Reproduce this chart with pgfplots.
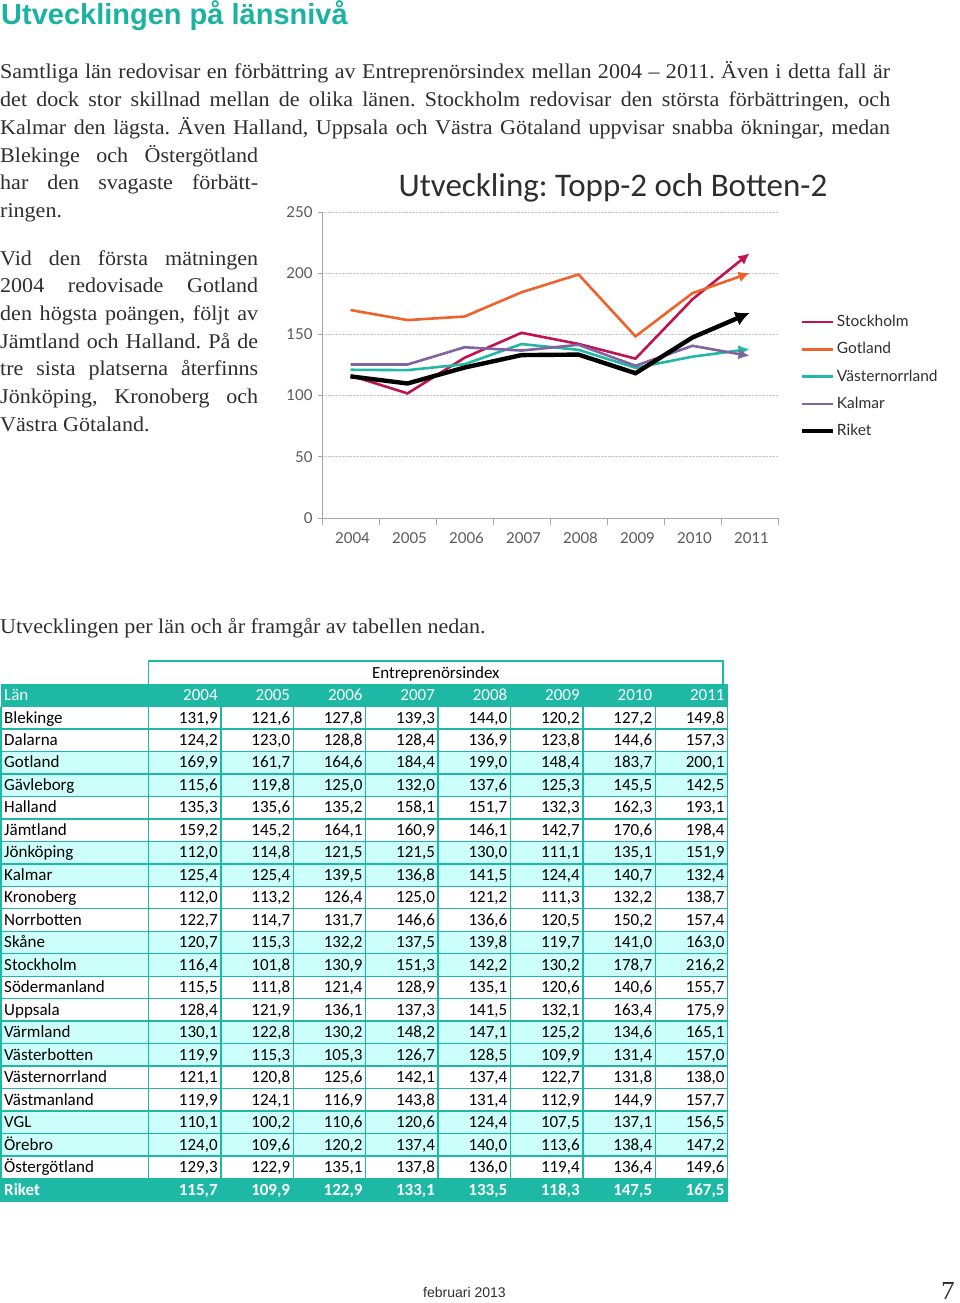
\documentclass[border=0pt]{standalone}
\usepackage{fontspec}
\setmainfont[FakeStretch=1.05]{Liberation Serif}
\newfontfamily\headfont{Liberation Sans}
\newfontfamily\calib{Carlito}
\newfontfamily\lato{Lato}
\usepackage{pgfplots}
\pgfplotsset{compat=1.18}
\usetikzlibrary{arrows.meta}
\definecolor{headteal}{HTML}{1AB2A0}
\definecolor{tteal}{HTML}{1DB9A4}
\definecolor{cyanrow}{HTML}{CCFFF9}
\definecolor{stock}{HTML}{C0134F}
\definecolor{gotl}{HTML}{F0622B}
\definecolor{vnorr}{HTML}{22B8A6}
\definecolor{kalm}{HTML}{8064A2}
\definecolor{txt}{HTML}{2E2E2E}
\definecolor{axgray}{HTML}{595959}

\newcommand\jl[2]{\makebox[#1pt][s]{#2}}
\newcounter{tr}
\newcommand\tfont{\calib\fontsize{17}{17}\selectfont}
% row: name + 8 values
\newcommand\trow[9]{%
  \pgfmathsetmacro\ytop{706.5+22.476*\the\value{tr}}%
  \pgfmathtruncatemacro\band{mod(floor(\the\value{tr}/2),2)}%
  \ifnum\band=1 \fill[cyanrow] (1,-\ytop) rectangle (727.7,-\ytop-22.476);\fi
  \pgfmathsetmacro\yb{\ytop+16.5}%
  \node[anchor=base west,inner sep=0,font=\tfont] at (4,-\yb) {#1};
  \node[anchor=base east,inner sep=0,font=\tfont] at (217.9,-\yb) {#2};
  \node[anchor=base east,inner sep=0,font=\tfont] at (290.3,-\yb) {#3};
  \node[anchor=base east,inner sep=0,font=\tfont] at (362.7,-\yb) {#4};
  \node[anchor=base east,inner sep=0,font=\tfont] at (435.1,-\yb) {#5};
  \node[anchor=base east,inner sep=0,font=\tfont] at (507.5,-\yb) {#6};
  \node[anchor=base east,inner sep=0,font=\tfont] at (579.9,-\yb) {#7};
  \node[anchor=base east,inner sep=0,font=\tfont] at (652.3,-\yb) {#8};
  \node[anchor=base east,inner sep=0,font=\tfont] at (724.7,-\yb) {#9};
  \stepcounter{tr}%
}

\begin{document}
\frenchspacing
\begin{tikzpicture}[x=1pt,y=1pt]
\path[use as bounding box] (0,0) rectangle (960,-1303);

% heading
\node[anchor=base west,inner sep=0,text=headteal,font=\headfont\bfseries\fontsize{29}{29}\selectfont] at (1,-25) {Utvecklingen på länsnivå};

% body text
\begin{scope}[every node/.style={anchor=base west,inner sep=0,text=txt,font=\fontsize{21}{21}\selectfont}]
\node at (0,-79) {\jl{890}{Samtliga län redovisar en förbättring av Entreprenörsindex mellan 2004 – 2011. Även i detta fall är}};
\node at (0,-106.7) {\jl{890}{det dock stor skillnad mellan de olika länen. Stockholm redovisar den största förbättringen, och}};
\node at (0,-134.4) {\jl{890}{Kalmar den lägsta. Även Halland, Uppsala och Västra Götaland uppvisar snabba ökningar, medan}};
\node at (0,-162.1) {\jl{258}{Blekinge och Östergötland}};
\node at (0,-189.8) {\jl{258}{har den svagaste förbätt-}};
\node at (0,-217.5) {ringen.};
\node at (0,-265) {\jl{258}{Vid den första mätningen}};
\node at (0,-292.7) {\jl{258}{2004 redovisade Gotland}};
\node at (0,-320.4) {\jl{258}{den högsta poängen, följt av}};
\node at (0,-348.1) {\jl{258}{Jämtland och Halland. På de}};
\node at (0,-375.8) {\jl{258}{tre sista platserna återfinns}};
\node at (0,-403.5) {\jl{258}{Jönköping, Kronoberg och}};
\node at (0,-431.2) {Västra Götaland.};
\node at (0,-633) {Utvecklingen per län och år framgår av tabellen nedan.};
\end{scope}

% chart title
\node[anchor=base,inner sep=0,text=txt,font=\calib\fontsize{33}{33}\selectfont] at (613,-196) {Utveckling: Topp-2 och Botten-2};

\coordinate (chartorigin) at (322,-518);
\begin{axis}[
  at={(chartorigin)}, anchor=south west,
  scale only axis, width=456pt, height=306pt,
  xmin=0, xmax=8, ymin=0, ymax=250,
  clip=false,
  axis lines*=left,
  axis line style={draw=gray!70, line width=0.8pt},
  xtick={0.5,1.5,2.5,3.5,4.5,5.5,6.5,7.5},
  xticklabels={2004,2005,2006,2007,2008,2009,2010,2011},
  minor xtick={0,1,2,3,4,5,6,7,8},
  major x tick style={draw=none},
  minor x tick style={draw=gray!70, line width=0.8pt},
  minor tick length=7pt,
  ytick={0,50,100,150,200,250},
  y tick style={draw=gray!70, line width=0.8pt},
  major tick length=4pt,
  tick align=outside,
  ymajorgrids,
  grid style={densely dotted, gray!45, line width=0.7pt},
  /pgf/number format/assume math mode=true,
  tick label style={font=\lato\fontsize{15}{15}\selectfont, text=axgray},
  xticklabel style={yshift=-7pt, xshift=2pt},
  yticklabel style={xshift=-2pt},
  legend style={at={(1.048,0.462)}, anchor=west, draw=none, fill=none,
    font=\lato\fontsize{15.5}{15.5}\selectfont, text=txt,
    row sep=11.3pt, inner sep=0pt,
    nodes={inner sep=1.5pt, text height=11pt, text depth=2pt}},
  legend cell align=left,
  legend image code/.code={\draw[#1,-] (0pt,0pt) -- (31pt,0pt);},
]
\addplot[stock, line width=2.6pt, -{Latex[length=11pt,width=11pt]}] coordinates {
 (0.5,116.4) (1.5,101.8) (2.5,130.9) (3.5,151.3) (4.5,142.2) (5.5,130.2) (6.5,178.7) (7.5,216.2)};
\addplot[gotl, line width=2.6pt, -{Latex[length=11pt,width=11pt]}] coordinates {
 (0.5,169.9) (1.5,161.7) (2.5,164.6) (3.5,184.4) (4.5,199.0) (5.5,148.4) (6.5,183.7) (7.5,200.1)};
\addplot[vnorr, line width=2.6pt, -{Latex[length=11pt,width=11pt]}] coordinates {
 (0.5,121.1) (1.5,120.8) (2.5,125.6) (3.5,142.1) (4.5,137.4) (5.5,122.7) (6.5,131.8) (7.5,138.0)};
\addplot[kalm, line width=2.6pt, -{Latex[length=11pt,width=11pt]}] coordinates {
 (0.5,125.4) (1.5,125.4) (2.5,139.5) (3.5,136.8) (4.5,141.5) (5.5,124.4) (6.5,140.7) (7.5,132.4)};
\addplot[black, line width=4.4pt, -{Latex[length=14pt,width=15pt]}] coordinates {
 (0.5,115.7) (1.5,109.9) (2.5,122.9) (3.5,133.1) (4.5,133.5) (5.5,118.3) (6.5,147.5) (7.5,167.5)};
\legend{Stockholm,Gotland,Västernorrland,Kalmar,Riket}
\end{axis}

% ---------- table ----------
% Entreprenörsindex box
\draw[tteal, line width=1.4pt] (148.5,-683.5) -- (148.5,-661) -- (723,-661) -- (723,-683.5);
\node[anchor=base,inner sep=0,font=\tfont] at (435.8,-678) {Entreprenörsindex};
% header row
\fill[tteal] (1,-683.5) rectangle (727.7,-706.5);
\begin{scope}[every node/.style={anchor=base east,inner sep=0,text=white,font=\tfont}]
\node[anchor=base west] at (4,-700) {Län};
\node at (217.9,-700) {2004};
\node at (290.3,-700) {2005};
\node at (362.7,-700) {2006};
\node at (435.1,-700) {2007};
\node at (507.5,-700) {2008};
\node at (579.9,-700) {2009};
\node at (652.3,-700) {2010};
\node at (724.7,-700) {2011};
\end{scope}
\setcounter{tr}{0}
\trow{Blekinge}{131,9}{121,6}{127,8}{139,3}{144,0}{120,2}{127,2}{149,8}
\trow{Dalarna}{124,2}{123,0}{128,8}{128,4}{136,9}{123,8}{144,6}{157,3}
\trow{Gotland}{169,9}{161,7}{164,6}{184,4}{199,0}{148,4}{183,7}{200,1}
\trow{Gävleborg}{115,6}{119,8}{125,0}{132,0}{137,6}{125,3}{145,5}{142,5}
\trow{Halland}{135,3}{135,6}{135,2}{158,1}{151,7}{132,3}{162,3}{193,1}
\trow{Jämtland}{159,2}{145,2}{164,1}{160,9}{146,1}{142,7}{170,6}{198,4}
\trow{Jönköping}{112,0}{114,8}{121,5}{121,5}{130,0}{111,1}{135,1}{151,9}
\trow{Kalmar}{125,4}{125,4}{139,5}{136,8}{141,5}{124,4}{140,7}{132,4}
\trow{Kronoberg}{112,0}{113,2}{126,4}{125,0}{121,2}{111,3}{132,2}{138,7}
\trow{Norrbotten}{122,7}{114,7}{131,7}{146,6}{136,6}{120,5}{150,2}{157,4}
\trow{Skåne}{120,7}{115,3}{132,2}{137,5}{139,8}{119,7}{141,0}{163,0}
\trow{Stockholm}{116,4}{101,8}{130,9}{151,3}{142,2}{130,2}{178,7}{216,2}
\trow{Södermanland}{115,5}{111,8}{121,4}{128,9}{135,1}{120,6}{140,6}{155,7}
\trow{Uppsala}{128,4}{121,9}{136,1}{137,3}{141,5}{132,1}{163,4}{175,9}
\trow{Värmland}{130,1}{122,8}{130,2}{148,2}{147,1}{125,2}{134,6}{165,1}
\trow{Västerbotten}{119,9}{115,3}{105,3}{126,7}{128,5}{109,9}{131,4}{157,0}
\trow{Västernorrland}{121,1}{120,8}{125,6}{142,1}{137,4}{122,7}{131,8}{138,0}
\trow{Västmanland}{119,9}{124,1}{116,9}{143,8}{131,4}{112,9}{144,9}{157,7}
\trow{VGL}{110,1}{100,2}{110,6}{120,6}{124,4}{107,5}{137,1}{156,5}
\trow{Örebro}{124,0}{109,6}{120,2}{137,4}{140,0}{113,6}{138,4}{147,2}
\trow{Östergötland}{129,3}{122,9}{135,1}{137,8}{136,0}{119,4}{136,4}{149,6}
% grid lines for body rows
\foreach \r in {0,...,21} {
  \draw[tteal, line width=1.4pt] (1,-706.5-22.476*\r) -- (727.7,-706.5-22.476*\r);
}
\foreach \c in {1,148.5,220.9,293.3,365.7,438.1,510.5,582.9,655.3,727.7} {
  \draw[tteal, line width=1.4pt] (\c,-706.5) -- (\c,-1178.5);
}
% Riket row
\fill[tteal] (0.3,-1178.5) rectangle (728.4,-1201.5);
\begin{scope}[every node/.style={anchor=base east,inner sep=0,text=white,font=\tfont\bfseries}]
\node[anchor=base west] at (4,-1195) {Riket};
\node at (217.9,-1195) {115,7};
\node at (290.3,-1195) {109,9};
\node at (362.7,-1195) {122,9};
\node at (435.1,-1195) {133,1};
\node at (507.5,-1195) {133,5};
\node at (579.9,-1195) {118,3};
\node at (652.3,-1195) {147,5};
\node at (724.7,-1195) {167,5};
\end{scope}

% footer
\node[anchor=base west,inner sep=0,text=txt,font=\headfont\fontsize{14}{14}\selectfont] at (423,-1297) {februari 2013};
\node[anchor=base east,inner sep=0,text=txt,font=\fontsize{26}{26}\selectfont] at (955,-1299) {7};
\end{tikzpicture}
\end{document}
